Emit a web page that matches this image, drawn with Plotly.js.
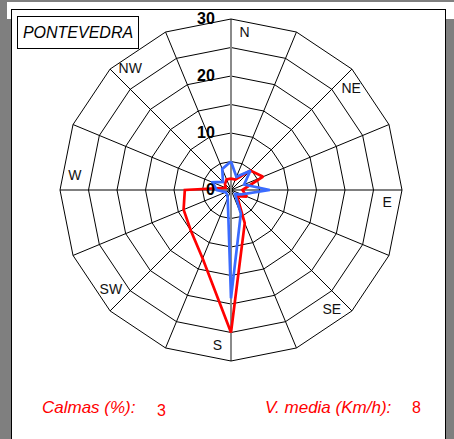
<!DOCTYPE html>
<html>
<head>
<meta charset="utf-8">
<script src="https://cdn.plot.ly/plotly-3.0.1.min.js"></script>
<style>
  html, body { margin:0; padding:0; width:454px; height:439px; overflow:hidden; background:#7f7f7f; }
  #topstrip { position:absolute; left:7px; top:2px; width:447px; height:17px; background:#ffffff; }
  #panel { position:absolute; left:11px; top:9px; width:433px; height:440px; background:#ffffff; border:1px solid #000; }
  #chart { position:absolute; left:0; top:0; width:454px; height:439px; }
</style>
</head>
<body>
<div id="topstrip"></div>
<div id="panel"></div>
<div id="chart"></div>
<script>
// ---- data ----
const directions = ['N','NNE','NE','ENE','E','ESE','SE','SSE','S','SSW','SW','WSW','W','WNW','NW','NNW'];
const redValues  = [2, 2, 4.8, 6.1, 2, 3, 1.5, 6.3, 25, 13, 10, 9, 8.1, 1, 1.5, 2];
const blueValues = [5, 2.5, 4.8, 2.5, 6.8, 2, 1, 4.5, 19, 1.5, 1, 1, 2.5, 3.5, 2, 4];
const radialTickVals = [0, 5, 10, 15, 20, 25, 30];
const radialTickText = ['0', '', '10', '', '20', '', '30'];
const compassLabels = ['N','NE','E','SE','S','SW','W','NW'];
const stationName = 'PONTEVEDRA';
const calmLabel = 'Calmas (%):';
const calmValue = '3';
const speedLabel = 'V. media (Km/h):';
const speedValue = '8';

const RMAX = radialTickVals[radialTickVals.length - 1];
const FONT = 'Liberation Sans, Arial, Helvetica, sans-serif';
const close = a => a.concat([a[0]]);

const traces = [
  { type:'scatterpolar', subplot:'polar', mode:'lines', hoverinfo:'skip',
    r:[RMAX, 0, RMAX], theta:['N','N','S'],
    line:{color:'#8a8a8a', width:2} },
  { type:'scatterpolar', subplot:'polar', mode:'lines',
    r: close(redValues), theta: close(directions),
    line:{color:'#ff0000', width:2.7} },
  { type:'scatterpolar', subplot:'polar', mode:'lines',
    r: close(blueValues), theta: close(directions),
    line:{color:'#3a6bff', width:2.7} },
  { type:'scatterpolar', subplot:'polar2', mode:'text', hoverinfo:'skip',
    r: compassLabels.map(() => RMAX * 0.917),
    theta: compassLabels.map((_, i) => i * 45 + 5),
    text: compassLabels,
    textposition:'middle center',
    textfont:{family:FONT, size:14, color:'#111'} }
];

const dom = { x:[60/454, 402/454], y:[1 - 361/439, 1 - 19/439] };

const layout = {
  width:454, height:439,
  margin:{l:0, r:0, t:0, b:0},
  paper_bgcolor:'rgba(0,0,0,0)', plot_bgcolor:'rgba(0,0,0,0)',
  showlegend:false,
  font:{family:FONT},
  polar:{
    domain:dom, bgcolor:'rgba(0,0,0,0)', gridshape:'linear',
    radialaxis:{
      range:[0, RMAX], tickvals:radialTickVals, ticktext:radialTickText,
      angle:90, side:'counterclockwise', tickangle:90, showline:false,
      ticks:'outside', ticklen:10, tickcolor:'rgba(0,0,0,0)',
      gridcolor:'#000', gridwidth:1,
      tickfont:{family:FONT, size:16, color:'#000', weight:'bold'}
    },
    angularaxis:{
      type:'category', categoryarray:directions, direction:'clockwise', rotation:90,
      showticklabels:false, ticks:'', gridcolor:'#000', gridwidth:1,
      showline:true, linecolor:'#000', linewidth:1
    }
  },
  polar2:{
    domain:dom, bgcolor:'rgba(0,0,0,0)',
    radialaxis:{range:[0, RMAX], visible:false},
    angularaxis:{visible:false, direction:'clockwise', rotation:90}
  },
  annotations:[
    { xref:'paper', yref:'paper', x:78/454, y:1 - 32.5/439, xanchor:'center', yanchor:'middle',
      text:'<i>' + stationName + '</i>', showarrow:false,
      font:{family:FONT, size:16, color:'#000'},
      bordercolor:'#000', borderwidth:1, borderpad:0, width:120, height:31, bgcolor:'#fff' },
    { xref:'paper', yref:'paper', x:40/454, y:1 - 407/439, xanchor:'left', yanchor:'middle',
      text:'<i>' + calmLabel + '</i>', showarrow:false, font:{family:FONT, size:17, color:'#ff0000'} },
    { xref:'paper', yref:'paper', x:161/454, y:1 - 410.5/439, xanchor:'center', yanchor:'middle',
      text:calmValue, showarrow:false, font:{family:FONT, size:16, color:'#ff0000'} },
    { xref:'paper', yref:'paper', x:263/454, y:1 - 407/439, xanchor:'left', yanchor:'middle',
      text:'<i>' + speedLabel + '</i>', showarrow:false, font:{family:FONT, size:17, color:'#ff0000'} },
    { xref:'paper', yref:'paper', x:416/454, y:1 - 407.5/439, xanchor:'center', yanchor:'middle',
      text:speedValue, showarrow:false, font:{family:FONT, size:16, color:'#ff0000'} }
  ]
};

Plotly.newPlot('chart', traces, layout, {staticPlot:true, displayModeBar:false});
</script>
</body>
</html>
